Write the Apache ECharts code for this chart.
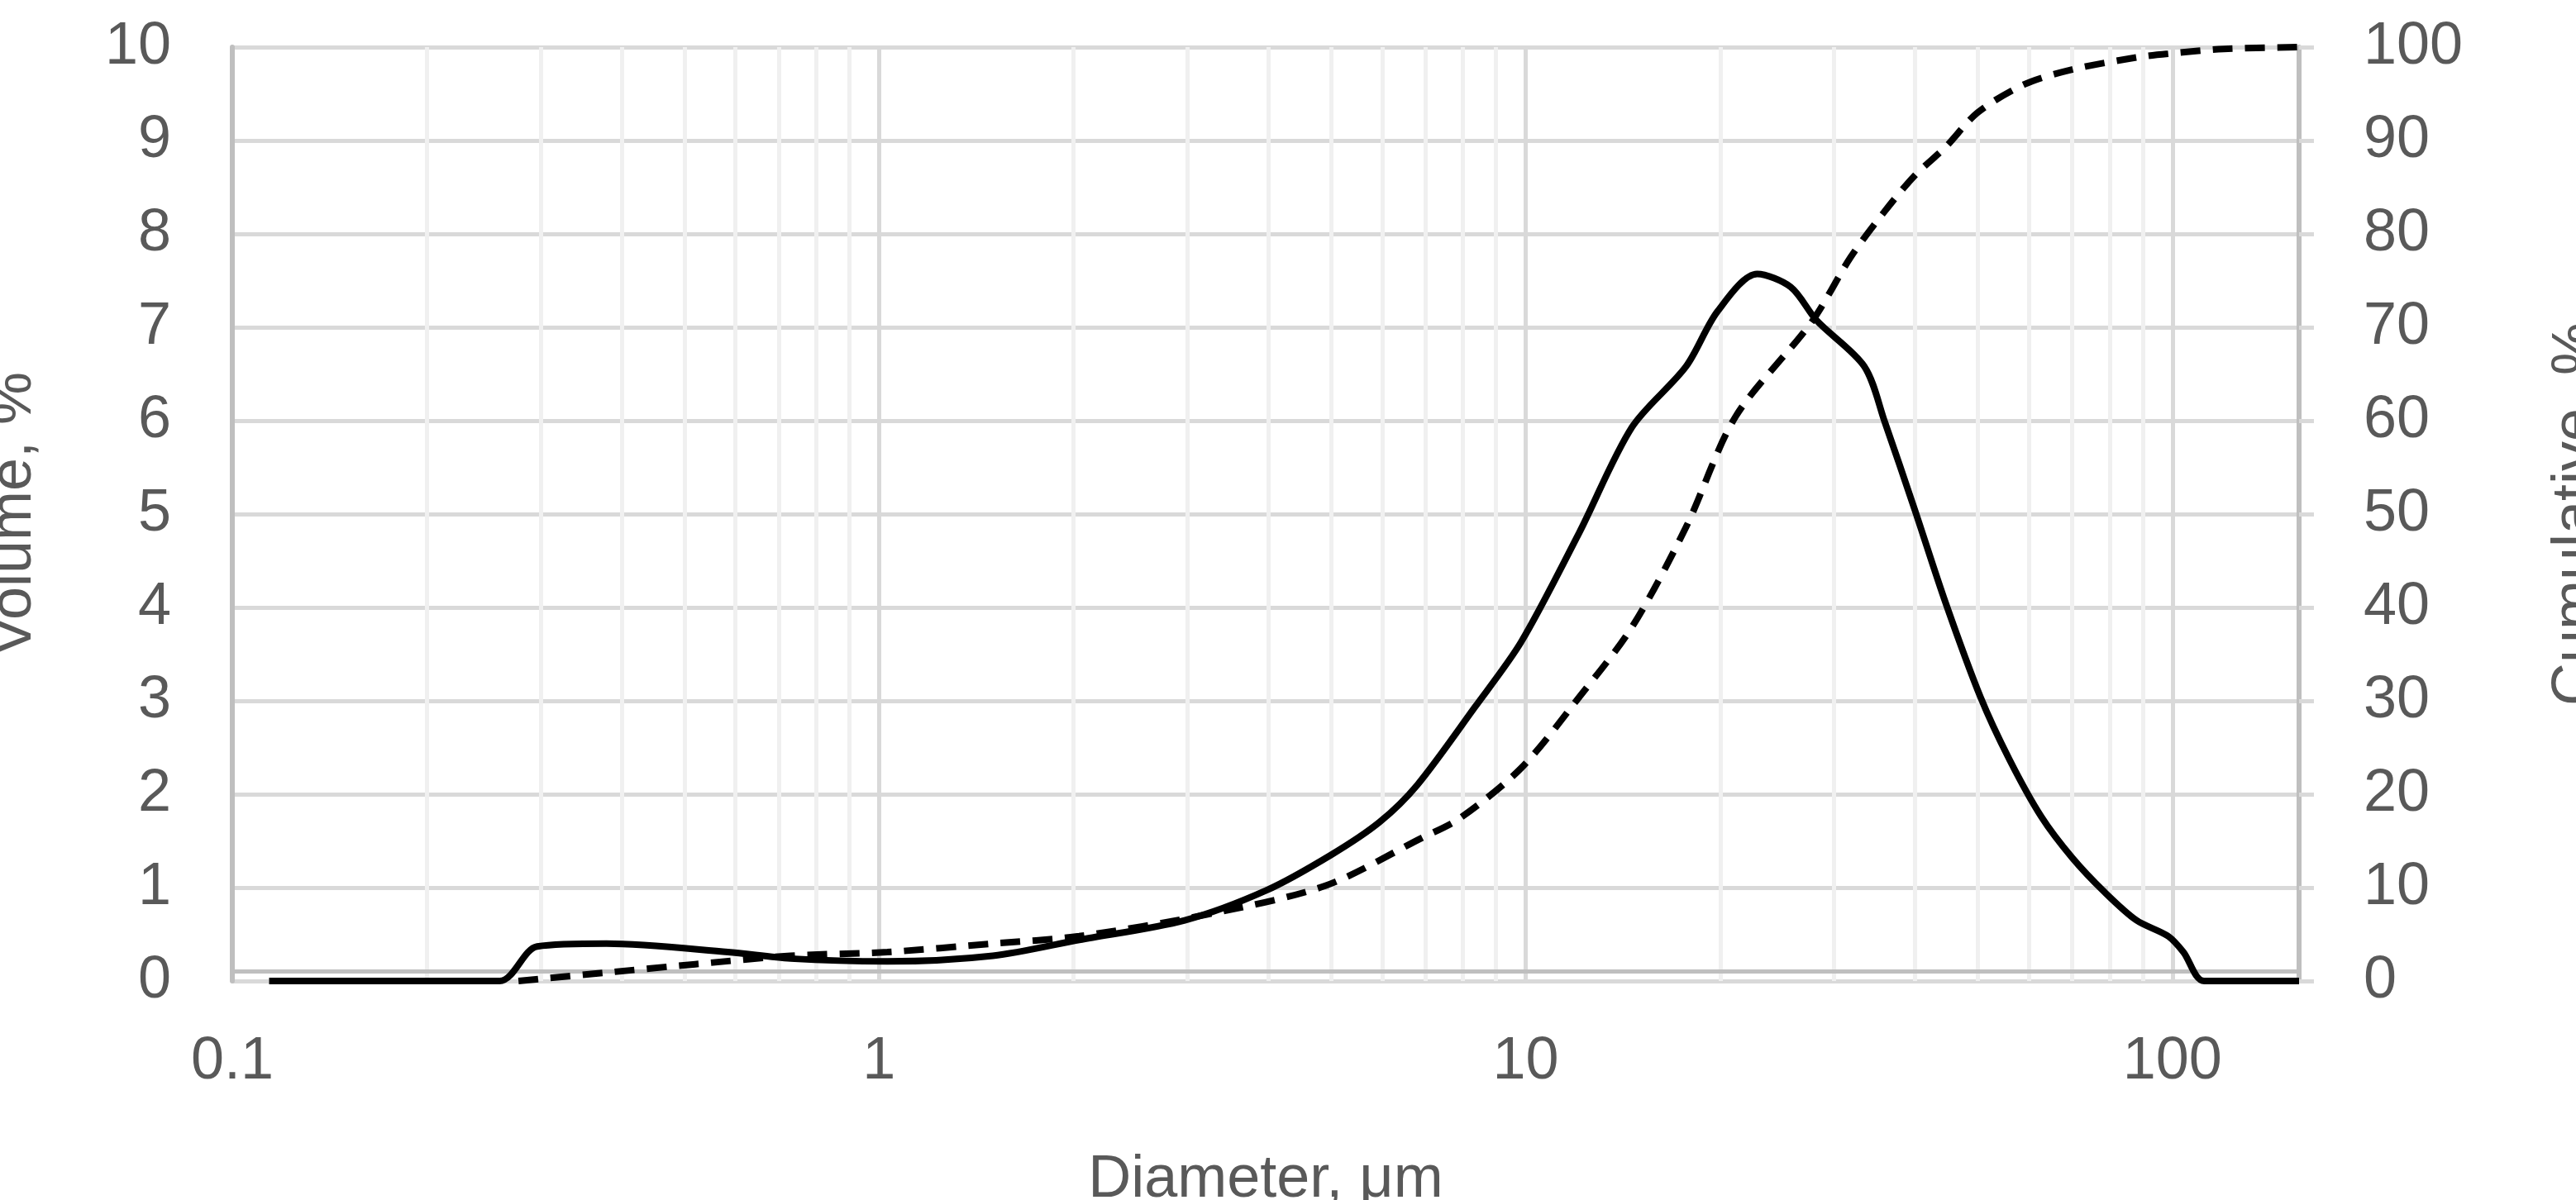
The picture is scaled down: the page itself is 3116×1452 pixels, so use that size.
<!DOCTYPE html>
<html><head><meta charset="utf-8">
<script src="https://cdn.jsdelivr.net/npm/echarts@6/dist/echarts.min.js"></script>
<style>html,body{margin:0;padding:0;background:#fff}#c{width:3116px;height:1452px}</style>
</head><body><div id="c"></div>
<script>
const volX = [0.114,0.259,0.296,0.379,0.584,0.73,1.03,1.5,2.04,2.97,3.97,5.0,5.94,6.8,8.34,9.84,12.1,14.6,17.7,19.8,22.8,25.7,28.2,33.4,35.9,39.9,44.6,50.5,56,62.7,70,78.6,88,98.5,104,112,157];
const volY = [0,0,0.37,0.40,0.31,0.24,0.21,0.27,0.44,0.65,0.97,1.35,1.7,2.1,2.93,3.63,4.8,5.93,6.58,7.17,7.57,7.43,7.07,6.58,5.99,5.06,4.05,3.04,2.37,1.76,1.32,0.95,0.65,0.48,0.31,0,0];
const cumX = [0.277,0.379,0.52,0.73,1.03,1.5,2.04,3.2,4.9,6.9,7.9,9.84,12.1,14.6,17.7,21.1,27.7,31.8,35.7,39.9,44.6,50,59,70,88,98.5,120,157];
const cumY = [0,0.9,1.8,2.7,3.1,4.0,4.8,7.1,10.2,15.3,17.4,22.8,30.4,37.9,48.6,60.4,70.6,77.5,82.2,86.2,89.3,93,96,97.6,98.9,99.3,99.8,100];
const minorGrid = [0.2,0.3,0.4,0.5,0.6,0.7,0.8,0.9,2,3,4,5,6,7,8,9,20,30,40,50,60,70,80,90];
const xMin = 0.1, xMax = 157;

const font = 'Liberation Sans';
const lab = {fontSize: 72, color: '#595959', fontFamily: font};
const chart = echarts.init(document.getElementById('c'));
chart.setOption({
  animation: false,
  grid: {left: 281, right: 335, top: 57, bottom: 265, outerBoundsMode: 'none', containLabel: false},
  xAxis: {
    type: 'log', logBase: 10, min: xMin, max: xMax,
    name: 'Diameter, μm', nameLocation: 'middle', nameGap: 205,
    nameTextStyle: {fontSize: 72, color: '#595959', fontFamily: font},
    axisLine: {show: false}, axisTick: {show: false},
    axisLabel: Object.assign({margin: 62, showMaxLabel: false, formatter: v => String(+v.toPrecision(3))}, lab),
    splitLine: {show: true, lineStyle: {color: '#d9d9d9', width: 5}},
    minorTick: {show: false}, minorSplitLine: {show: false}
  },
  yAxis: [{
    type: 'value', min: 0, max: 10, interval: 1,
    name: 'Volume, %', nameLocation: 'middle', nameGap: 228,
    nameTextStyle: {fontSize: 72, color: '#595959', fontFamily: font},
    axisLine: {show: true, lineStyle: {color: '#bfbfbf', width: 6}}, axisTick: {show: false},
    axisLabel: Object.assign({margin: 74}, lab),
    splitLine: {lineStyle: {color: '#d9d9d9', width: 5}}
  }, {
    type: 'value', min: 0, max: 100, interval: 10, position: 'right',
    name: 'Cumulative, %', nameLocation: 'middle', nameGap: 300, nameRotate: 90,
    nameTextStyle: {fontSize: 72, color: '#595959', fontFamily: font},
    axisLine: {show: true, lineStyle: {color: '#bfbfbf', width: 6}},
    axisTick: {show: true, length: 18, lineStyle: {color: '#d9d9d9', width: 5}},
    axisLabel: Object.assign({margin: 78}, lab),
    splitLine: {show: false}
  }],
  series: [{
    type: 'line', yAxisIndex: 0, z: 5,
    data: volX.map((x, i) => [x, volY[i]]),
    smooth: 0.3, showSymbol: false,
    lineStyle: {color: '#000', width: 8},
    markLine: {
      silent: true, symbol: 'none', label: {show: false}, z: 1,
      lineStyle: {color: '#f0f0f0', width: 5, type: 'solid'},
      data: minorGrid.map(v => ({xAxis: v})).concat([{yAxis: 0.1, lineStyle: {color: '#bfbfbf', width: 5, type: 'solid'}}])
    }
  }, {
    type: 'line', yAxisIndex: 1, z: 6,
    data: cumX.map((x, i) => [x, cumY[i]]),
    smooth: 0.3, showSymbol: false,
    lineStyle: {color: '#000', width: 8, type: [24, 15]}
  }]
});
</script></body></html>
